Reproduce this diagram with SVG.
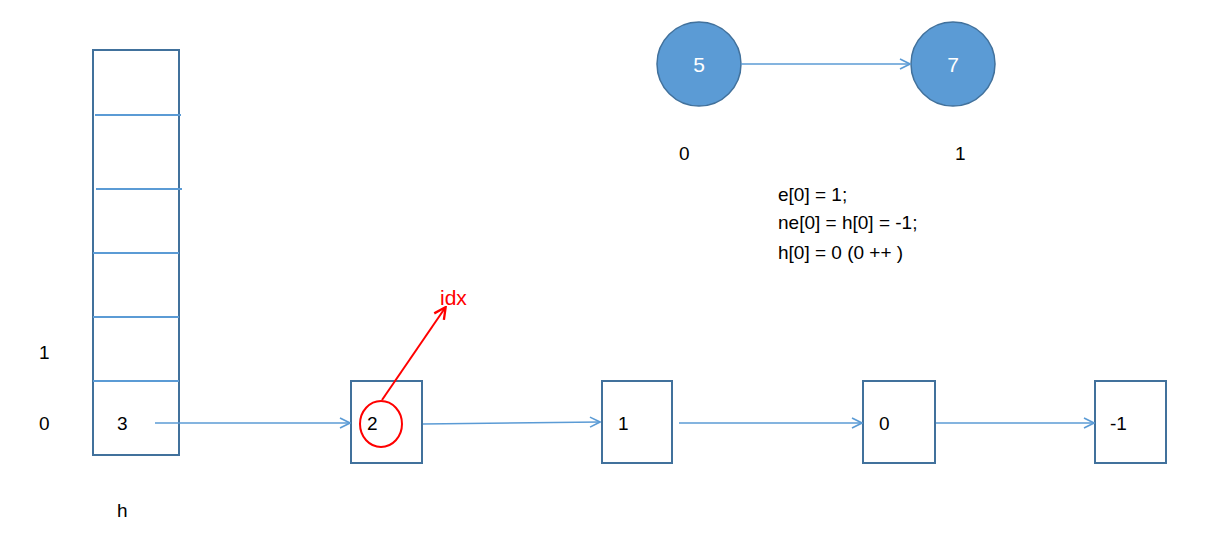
<svg xmlns="http://www.w3.org/2000/svg" width="1216" height="547" viewBox="0 0 1216 547">
<style>
.box{fill:#fff;stroke:#41719C;stroke-width:2}
.div{stroke:#5B9BD5;stroke-width:2}
.t{font-family:"Liberation Sans",Arial,sans-serif;font-size:19px;fill:#000}
.c{fill:#5B9BD5;stroke:#41719C;stroke-width:1.5}
.ct{font-family:"Liberation Sans",Arial,sans-serif;font-size:21px;fill:#fff;text-anchor:middle}
.e{stroke:#5B9BD5;stroke-width:1.6;fill:none}
</style>
<defs>
<marker id="a" viewBox="0 0 12 12" refX="11" refY="6" markerWidth="12" markerHeight="12" markerUnits="userSpaceOnUse" orient="auto">
<path d="M1,1 L11,6 L1,11" fill="none" stroke="#5B9BD5" stroke-width="1.6"/>
</marker>
<marker id="r" viewBox="0 0 12 12" refX="10" refY="6" markerWidth="14" markerHeight="14" markerUnits="userSpaceOnUse" orient="auto">
<path d="M1,1 L11,6 L1,11" fill="none" stroke="#FF0000" stroke-width="2"/>
</marker>
</defs>
<g id="h-array">
<rect class="box" x="93" y="50" width="86" height="405"/>
<line class="div" x1="95" y1="115" x2="181" y2="115"/>
<line class="div" x1="96" y1="189" x2="182" y2="189"/>
<line class="div" x1="93" y1="253" x2="179" y2="253"/>
<line class="div" x1="93" y1="317" x2="179" y2="317"/>
<line class="div" x1="93" y1="381" x2="179" y2="381"/>
<text class="t" x="117" y="430">3</text>
</g>
<g id="labels">
<text class="t" x="39" y="359">1</text>
<text class="t" x="39" y="430">0</text>
<text class="t" x="117" y="517">h</text>
<text class="t" x="679" y="160">0</text>
<text class="t" x="955" y="160">1</text>
<text class="t" x="778" y="201">e[0] = 1;</text>
<text class="t" x="778" y="229">ne[0] = h[0] = -1;</text>
<text class="t" x="778" y="259">h[0] = 0 (0 ++ )</text>
</g>
<g id="node-2">
<rect class="box" x="351" y="381" width="71" height="82"/>
<text class="t" x="367" y="430">2</text>
<ellipse cx="381" cy="424" rx="21" ry="23" fill="none" stroke="#FF0000" stroke-width="2"/>
</g>
<g id="node-1">
<rect class="box" x="602" y="381" width="70" height="82"/>
<text class="t" x="618" y="430">1</text>
</g>
<g id="node-0">
<rect class="box" x="863" y="381" width="72" height="82"/>
<text class="t" x="879" y="430">0</text>
</g>
<g id="node-m1">
<rect class="box" x="1095" y="381" width="71" height="82"/>
<text class="t" x="1110" y="430">-1</text>
</g>
<g id="node-5">
<circle class="c" cx="699" cy="64" r="42"/>
<text class="ct" x="699" y="72">5</text>
</g>
<g id="node-7">
<circle class="c" cx="953" cy="64" r="42"/>
<text class="ct" x="953" y="72">7</text>
</g>
<g id="idx">
<text x="440" y="305" font-family="Liberation Sans,Arial,sans-serif" font-size="21" fill="#FF0000">idx</text>
</g>
<g id="connectors">
<line class="e" x1="155" y1="423" x2="350" y2="423" marker-end="url(#a)"/>
<line class="e" x1="423" y1="424" x2="600" y2="422" marker-end="url(#a)"/>
<line class="e" x1="679" y1="423" x2="862" y2="423" marker-end="url(#a)"/>
<line class="e" x1="936" y1="423" x2="1094" y2="423" marker-end="url(#a)"/>
<line class="e" x1="741" y1="64" x2="910" y2="64" marker-end="url(#a)"/>
<line x1="382" y1="400" x2="445" y2="308" stroke="#FF0000" stroke-width="2" marker-end="url(#r)"/>
</g>
</svg>
